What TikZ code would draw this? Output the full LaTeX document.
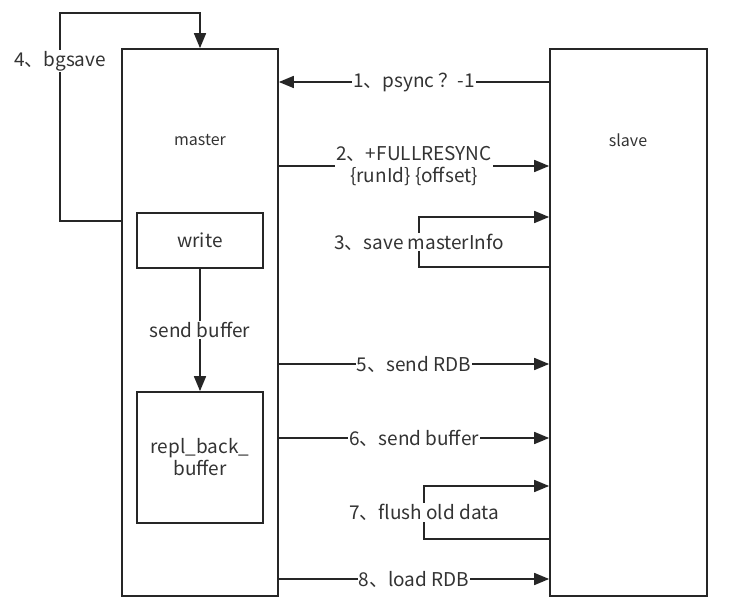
\documentclass[tikz,border=0pt]{standalone}
\usepackage{fontspec}
\setmainfont{Noto Sans CJK SC}
\usetikzlibrary{arrows.meta}

\begin{document}
\begin{tikzpicture}[x=1pt,y=-1pt,
	box/.style={draw=black!85, line width=1.7pt, inner sep=0pt},
	arr/.style={draw=black!85, line width=1.7pt, -{Triangle[length=15pt,width=12pt]}},
	lbl/.style={fill=white, inner sep=1pt, text=black!80, font=\fontsize{19}{22}\selectfont},
	srvname/.style={text=black!80, font=\fontsize{16}{18}\selectfont}]

\useasboundingbox (0,0) rectangle (730,601);

% the two servers
\node[box, minimum width=156, minimum height=547] (master) at (200,322.5) {};
\node[box, minimum width=157, minimum height=547] (slave) at (628.5,322.5) {};
\node[srvname] (mastername) at (200,140) {master};
\node[srvname] (slavename) at (628,140) {slave};

% inside the master
\node[box, minimum width=126, minimum height=55, lbl, draw] (write) at (200,240.5) {write};
\node[box, minimum width=126, minimum height=131, lbl, draw, align=center] (repl) at (200,457.5) {repl\_back\_\\buffer};
\draw[arr] (write) -- node[lbl] {send buffer} (repl);

% 4: bgsave
\draw[arr] (master.west |- 0,221) -- (60,221) -- node[lbl, pos=0.77] {4、bgsave} (60,13) -- (200,13) -- (master.north);

% messages
\draw[arr] (slave.west |- 0,82) -- node[lbl] {1、psync ？-1} (master.east |- 0,82);
\draw[arr] (master.east |- 0,166) -- node[lbl, align=center] {2、+FULLRESYNC\\\{runId\} \{offset\}} (slave.west |- 0,166);
\draw[arr] (slave.west |- 0,267) -- (419,267) -- node[lbl] {3、save masterInfo} (419,217) -- (slave.west |- 0,217);
\draw[arr] (master.east |- 0,364) -- node[lbl] {5、send RDB} (slave.west |- 0,364);
\draw[arr] (master.east |- 0,438) -- node[lbl] {6、send buffer} (slave.west |- 0,438);
\draw[arr] (slave.west |- 0,539) -- (424,539) -- node[lbl] {7、flush old data} (424,486) -- (slave.west |- 0,486);
\draw[arr] (master.east |- 0,579) -- node[lbl] {8、load RDB} (slave.west |- 0,579);

\end{tikzpicture}
\end{document}
